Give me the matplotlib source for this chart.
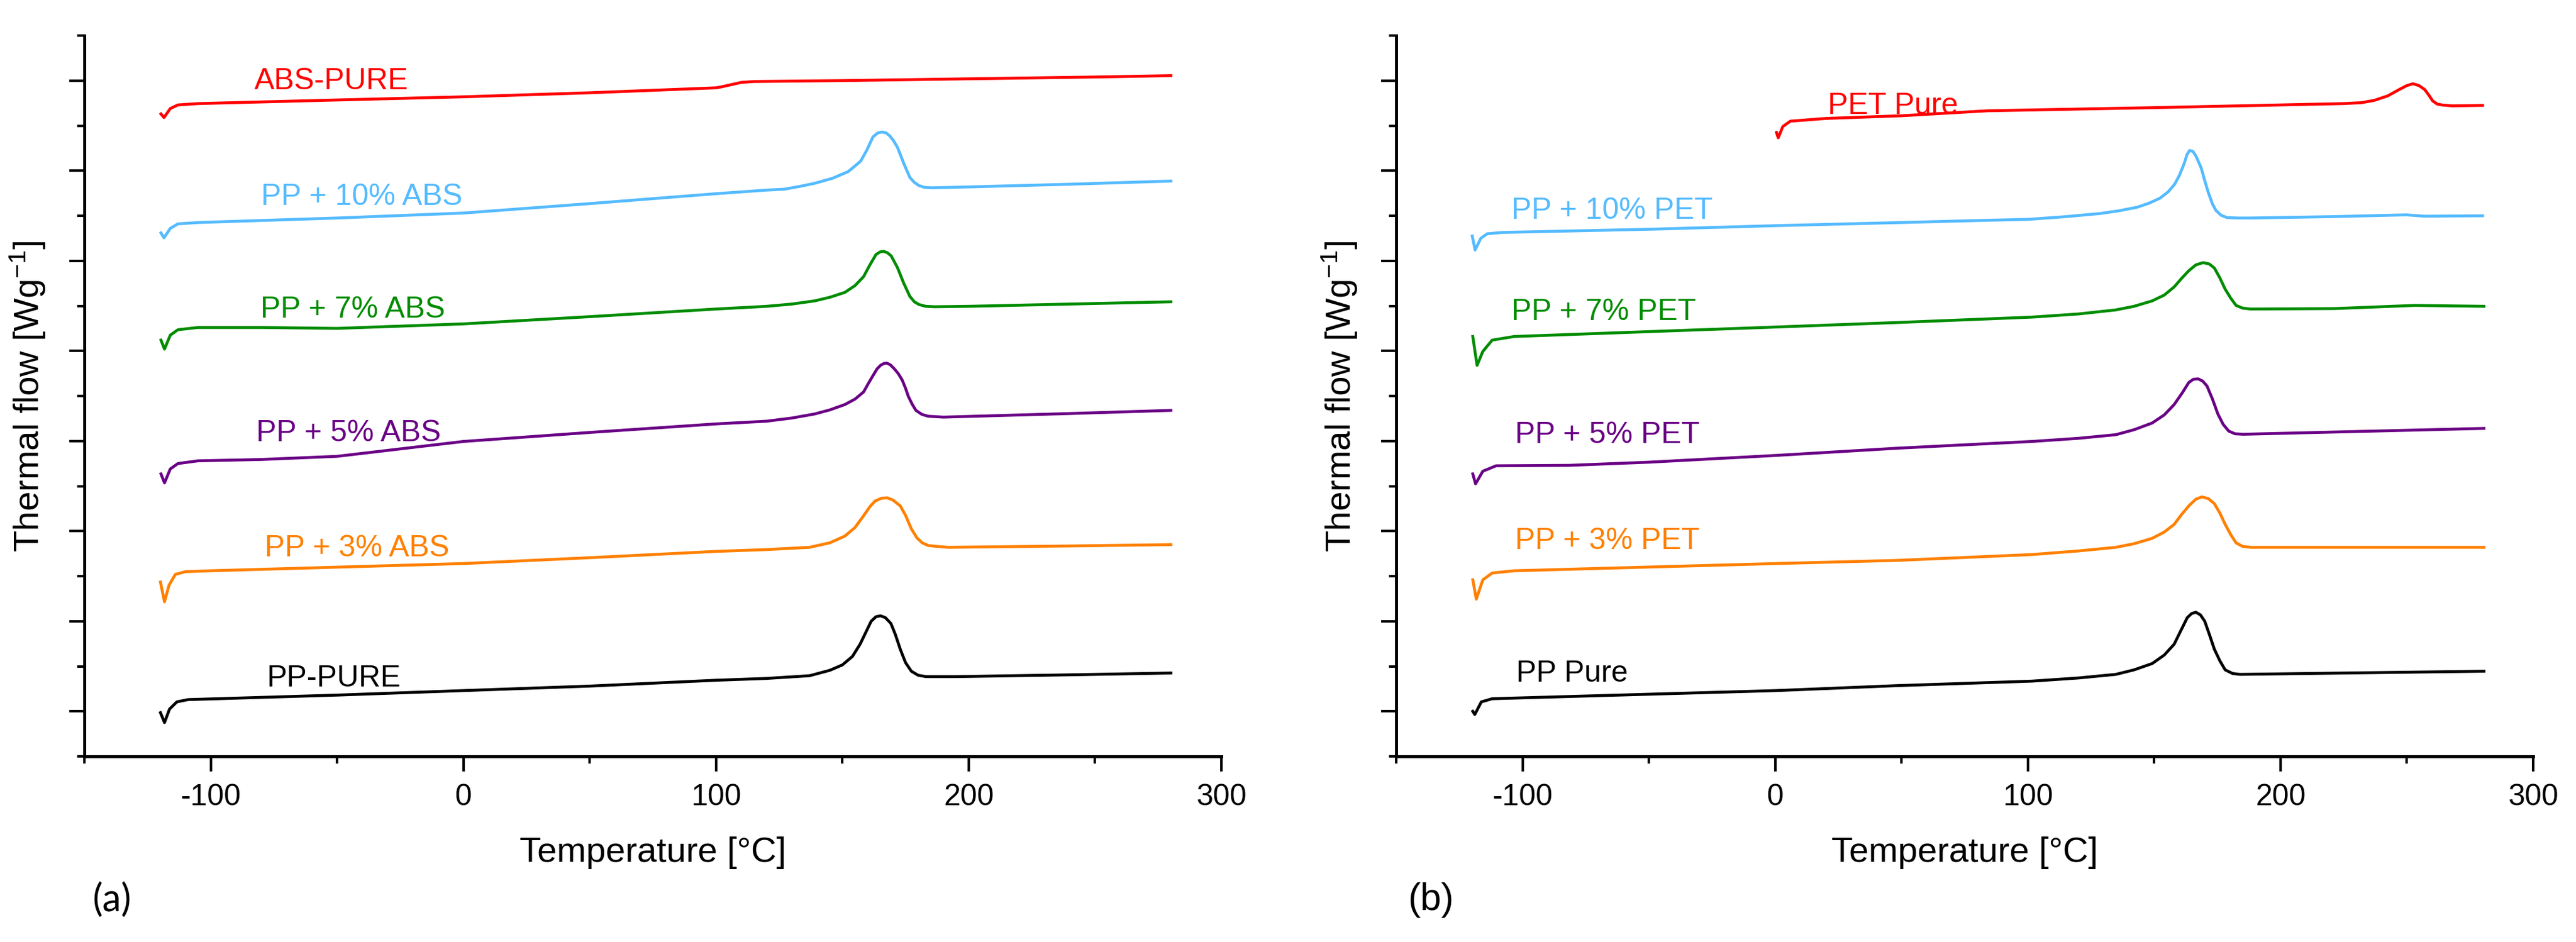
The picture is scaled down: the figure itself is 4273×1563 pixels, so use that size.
import numpy as np
import matplotlib
matplotlib.use('Agg')
import matplotlib.pyplot as plt
from matplotlib.ticker import MultipleLocator, NullFormatter

plt.rcParams['font.family'] = ['Liberation Sans', 'DejaVu Sans']
plt.rcParams['mathtext.fontset'] = 'custom'
plt.rcParams['mathtext.rm'] = 'Liberation Sans'
plt.rcParams['mathtext.default'] = 'regular'
plt.rcParams['axes.unicode_minus'] = False

# --- (a) PP / ABS blends: temperature [°C] and stacked heat flow (offset units)
abs_pure_t = [-119.7, -118.5, -116, -113, -105, -50, 0, 50, 100, 102, 106, 110, 115, 150, 200, 250, 280]
abs_pure_y = [14.26, 14.18, 14.38, 14.46, 14.49, 14.57, 14.64, 14.73, 14.84, 14.86, 14.91, 14.96, 14.98,
              15.00, 15.04, 15.08, 15.11]

pp10abs_t = [-119.7, -118.5, -116, -113, -105, -50, 0, 50, 100, 110, 120, 127, 133, 139, 146, 152.3, 157.2,
             159.7, 162.1, 164, 165.7, 167.3, 168.8, 170.3, 171.8, 174.3, 176.7, 178.5, 180.3, 182.5, 185.2,
             200, 240, 280]
pp10abs_y = [11.62, 11.51, 11.72, 11.82, 11.85, 11.95, 12.06, 12.27, 12.49, 12.53, 12.57, 12.59, 12.65, 12.72,
             12.83, 12.98, 13.21, 13.46, 13.75, 13.84, 13.86, 13.84, 13.77, 13.66, 13.52, 13.16, 12.85, 12.74,
             12.67, 12.63, 12.62, 12.64, 12.70, 12.77]

pp7abs_t = [-119.7, -118.3, -116, -113, -105, -80, -50, 0, 50, 100, 120, 130, 139, 145, 151, 155, 158.4,
            160.8, 163.3, 165, 166.3, 167.8, 169.3, 171.8, 174.3, 176.7, 178.5, 180.3, 183, 186.4, 200, 240, 280]
pp7abs_y = [9.24, 9.04, 9.35, 9.47, 9.52, 9.52, 9.50, 9.60, 9.76, 9.93, 9.99, 10.04, 10.11, 10.19, 10.30,
            10.45, 10.65, 10.90, 11.14, 11.20, 11.21, 11.18, 11.11, 10.85, 10.50, 10.21, 10.09, 10.03, 9.99,
            9.98, 9.99, 10.04, 10.09]

pp5abs_t = [-119.7, -118.3, -116, -113, -105, -80, -50, 0, 50, 100, 120, 130, 139, 145, 151, 155, 158.4,
            160.3, 162.1, 163.7, 165.1, 166.4, 167.6, 169, 170.6, 172.2, 173.7, 175, 176.1, 177.6, 179.1,
            181.5, 184, 190, 240, 280]
pp5abs_y = [6.27, 6.07, 6.38, 6.50, 6.56, 6.59, 6.66, 6.99, 7.19, 7.38, 7.44, 7.51, 7.60, 7.69, 7.81,
            7.93, 8.09, 8.28, 8.45, 8.60, 8.68, 8.72, 8.73, 8.69, 8.60, 8.49, 8.35, 8.17, 7.99, 7.82, 7.68,
            7.59, 7.55, 7.53, 7.61, 7.68]

pp3abs_t = [-119.9, -118.3, -116.5, -114, -110, -100, -50, 0, 50, 100, 120, 137, 145, 151, 155, 158.5,
            161, 163, 165.5, 167.7, 170, 172.9, 175, 177.3, 179.5, 181.6, 184, 187.4, 192, 240, 280]
pp3abs_y = [3.87, 3.43, 3.80, 4.04, 4.10, 4.12, 4.20, 4.28, 4.41, 4.55, 4.59, 4.64, 4.74, 4.89, 5.08,
            5.35, 5.55, 5.67, 5.73, 5.74, 5.69, 5.56, 5.35, 5.05, 4.85, 4.74, 4.68, 4.66, 4.64, 4.67, 4.70]

pp_pure_a_t = [-119.9, -118.3, -116.3, -113.4, -109, -50, 0, 50, 100, 120, 137, 145, 150, 154, 157,
               159.5, 161.4, 163.3, 165.1, 167, 169.2, 171, 172.9, 175, 177.3, 180, 183.1, 195, 240, 280]
pp_pure_a_y = [0.97, 0.75, 1.05, 1.21, 1.26, 1.36, 1.46, 1.56, 1.69, 1.73, 1.79, 1.91, 2.03, 2.22, 2.49,
               2.78, 3.00, 3.10, 3.12, 3.08, 2.95, 2.70, 2.38, 2.08, 1.89, 1.80, 1.77, 1.77, 1.81, 1.85]

# --- (b) PP / PET blends
pet_pure_t = [0.5, 1.2, 3, 6, 20, 50, 84, 150, 200, 225, 232, 237, 242.4, 246.9, 250, 252.4, 254.8,
              257.1, 258.8, 260.2, 262, 263.8, 268, 280]
pet_pure_y = [13.85, 13.73, 13.98, 14.10, 14.16, 14.22, 14.33, 14.40, 14.46, 14.49, 14.51, 14.56, 14.66,
              14.80, 14.89, 14.93, 14.89, 14.80, 14.67, 14.55, 14.48, 14.46, 14.44, 14.45]

pp10pet_t = [-119.9, -118.8, -116.5, -114, -108, -50, 0, 50, 84, 100, 115, 128.6, 136, 143.3, 148, 152.3,
             155.5, 158.1, 160, 161.8, 163, 164, 165.3, 166.5, 168.6, 170, 171.4, 173, 174.4, 176.5, 178.8,
             183, 187.7, 220, 249.8, 257.1, 280]
pp10pet_y = [11.55, 11.24, 11.50, 11.60, 11.63, 11.70, 11.78, 11.85, 11.90, 11.92, 11.98, 12.05, 12.11,
             12.19, 12.28, 12.39, 12.53, 12.70, 12.90, 13.15, 13.36, 13.45, 13.43, 13.33, 13.06, 12.78,
             12.52, 12.27, 12.12, 12.01, 11.96, 11.95, 11.95, 11.98, 12.02, 11.99, 12.00]

pp7pet_t = [-119.7, -118.0, -115.7, -112, -103.3, 0.3, 48.2, 101.6, 120, 134.8, 142, 149.2, 154, 157.9,
            161, 163.7, 166.5, 169.4, 171.8, 173.8, 176, 178.1, 180.3, 182.4, 185, 188.2, 221.4, 253.1, 280.5]
pp7pet_y = [9.32, 8.68, 8.99, 9.24, 9.32, 9.53, 9.63, 9.75, 9.82, 9.91, 9.99, 10.11, 10.24, 10.42,
            10.62, 10.78, 10.91, 10.96, 10.93, 10.84, 10.62, 10.37, 10.17, 10.01, 9.95, 9.93, 9.94, 10.01, 9.99]

pp5pet_t = [-119.7, -118.6, -115.7, -110.5, -81.6, -49.9, 0.3, 48.2, 101.6, 120, 134.8, 142, 149.2, 154,
            157.9, 161, 163.7, 165.5, 167.4, 169.2, 170.9, 173, 175.2, 177.3, 179.5, 182, 185.3, 280.5]
pp5pet_y = [6.27, 6.05, 6.33, 6.45, 6.46, 6.53, 6.68, 6.84, 6.99, 7.06, 7.14, 7.25, 7.40, 7.58,
            7.81, 8.06, 8.30, 8.37, 8.38, 8.33, 8.22, 7.94, 7.60, 7.37, 7.22, 7.16, 7.15, 7.28]

pp3pet_t = [-119.7, -118.3, -115.7, -112, -103.3, 0.3, 48.2, 101.6, 120, 134.8, 142, 149.2, 154, 157.9,
            161, 163.7, 166.5, 168.9, 171.5, 173.8, 176, 178.1, 180.3, 182.4, 185, 188.2, 280.5]
pp3pet_y = [3.92, 3.49, 3.92, 4.07, 4.12, 4.28, 4.35, 4.48, 4.56, 4.64, 4.72, 4.84, 4.98, 5.15,
            5.38, 5.56, 5.71, 5.76, 5.72, 5.61, 5.40, 5.15, 4.92, 4.74, 4.66, 4.64, 4.64]

pp_pure_b_t = [-119.7, -118.9, -116.3, -112, 0.3, 48.2, 101.6, 120, 134.8, 142, 149.2, 154, 157.9, 160.8,
               163.1, 164.8, 166.5, 168.3, 170, 172, 173.8, 176, 178.1, 181, 183.9, 280.5]
pp_pure_b_y = [1.00, 0.93, 1.21, 1.28, 1.46, 1.57, 1.67, 1.74, 1.82, 1.92, 2.06, 2.25, 2.49, 2.82,
               3.08, 3.17, 3.20, 3.14, 3.00, 2.68, 2.38, 2.12, 1.92, 1.84, 1.82, 1.89]

# curve labels: text, x centre (°C), baseline y
labels_a = ['ABS-PURE', 'PP + 10% ABS', 'PP + 7% ABS', 'PP + 5% ABS', 'PP + 3% ABS', 'PP-PURE']
label_x_a = [-52.3, -40.3, -43.8, -45.4, -42.1, -51.2]
label_y_a = [14.82, 12.26, 9.75, 7.01, 4.46, 1.57]

labels_b = ['PET Pure', 'PP + 10% PET', 'PP + 7% PET', 'PP + 5% PET', 'PP + 3% PET', 'PP Pure']
label_x_b = [46.5, -64.6, -67.9, -66.5, -66.5, -80.5]
label_y_b = [14.28, 11.95, 9.70, 6.97, 4.62, 1.67]

colors = ['#FF0000', '#55BBFF', '#008C00', '#6A0085', '#FF8000', '#000000']

series_a = [(abs_pure_t, abs_pure_y), (pp10abs_t, pp10abs_y), (pp7abs_t, pp7abs_y),
            (pp5abs_t, pp5abs_y), (pp3abs_t, pp3abs_y), (pp_pure_a_t, pp_pure_a_y)]
series_b = [(pet_pure_t, pet_pure_y), (pp10pet_t, pp10pet_y), (pp7pet_t, pp7pet_y),
            (pp5pet_t, pp5pet_y), (pp3pet_t, pp3pet_y), (pp_pure_b_t, pp_pure_b_y)]

W, H = 4273, 1564
fig = plt.figure(figsize=(W / 300, H / 300), dpi=300)

ax_w = 1886 / W
ax_h = 1196 / H
ax_b = 1 - 1256 / H
ax_a = fig.add_axes([140 / W, ax_b, ax_w, ax_h])
ax_bb = fig.add_axes([2316 / W, ax_b, ax_w, ax_h])


def draw_panel(ax, series, labels, lx, ly):
    for (t, y), c in zip(series, colors):
        ax.plot(t, y, color=c, lw=1.15, solid_joinstyle='round')
    for txt, x, y, c in zip(labels, lx, ly, colors):
        ax.text(x, y, txt, color=c, fontsize=12, ha='center', va='baseline')

    ax.set_xlim(-150, 300)
    ax.set_ylim(0, 16)
    ax.spines['top'].set_visible(False)
    ax.spines['right'].set_visible(False)
    for s in ('left', 'bottom'):
        ax.spines[s].set_linewidth(1.2)

    ax.xaxis.set_major_locator(MultipleLocator(100))
    ax.xaxis.set_minor_locator(MultipleLocator(50))
    ax.set_yticks(np.arange(1, 16, 2))
    ax.set_yticks(np.arange(0, 17, 2), minor=True)
    ax.yaxis.set_major_formatter(NullFormatter())
    ax.tick_params(which='major', length=6, width=1.0, labelsize=12, pad=4.5)
    ax.tick_params(which='minor', length=2.8, width=1.0)

    ax.set_xlabel('Temperature [°C]', fontsize=14)
    ax.set_ylabel('Thermal flow [Wg$^{-1}$]', fontsize=14)
    ax.xaxis.set_label_coords(0.5, -0.11)
    ax.yaxis.set_label_coords(-0.033, 0.5)


draw_panel(ax_a, series_a, labels_a, label_x_a, label_y_a)
draw_panel(ax_bb, series_b, labels_b, label_x_b, label_y_b)

fig.text(185 / W, 1 - 1494 / H, '(a)', fontsize=15, family=['Lato', 'DejaVu Sans'], ha='center', va='center')
fig.text(2373 / W, 1 - 1494 / H, '(b)', fontsize=15, ha='center', va='center')

fig.savefig('out.png', dpi=300)
